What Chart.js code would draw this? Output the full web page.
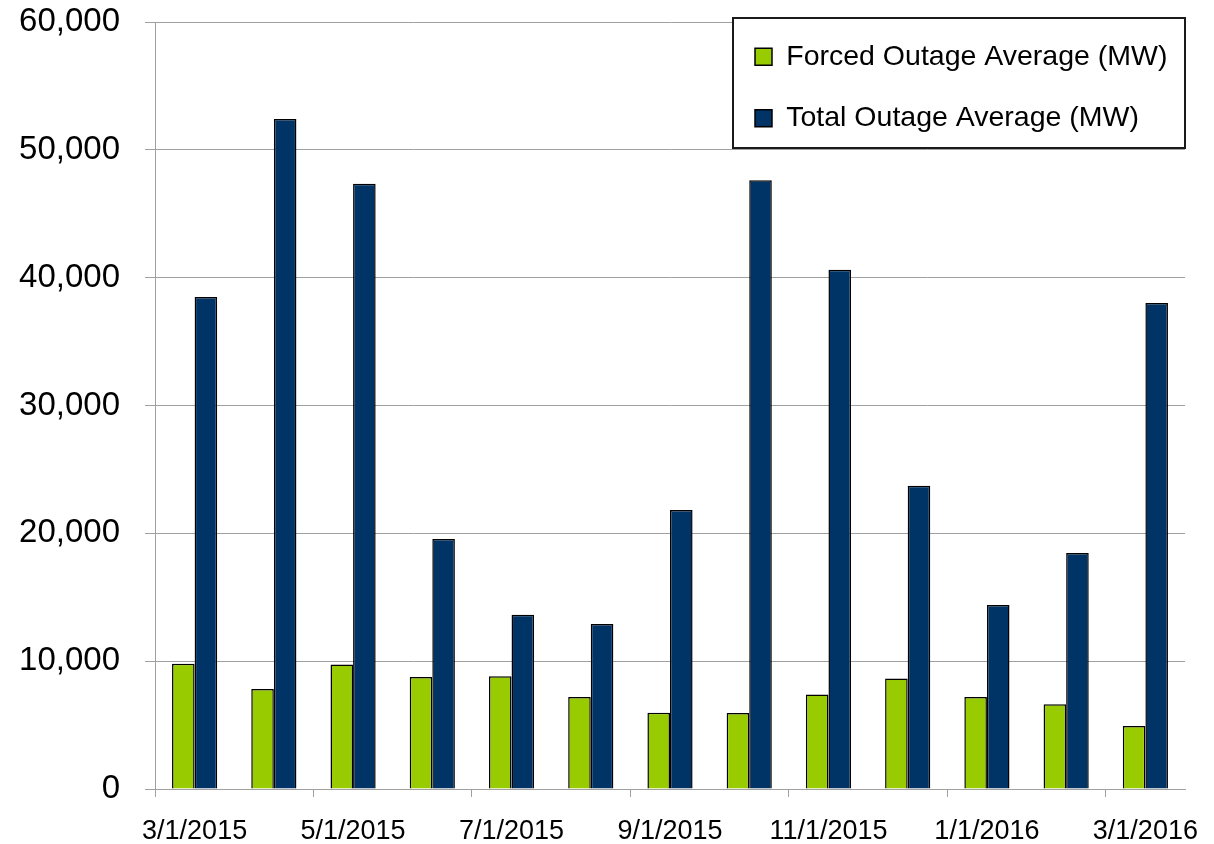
<!DOCTYPE html>
<html>
<head>
<meta charset="utf-8">
<script src="https://cdn.jsdelivr.net/npm/chart.js@4.4.1/dist/chart.umd.min.js"></script>
<style>
  html, body { margin: 0; padding: 0; background: #ffffff; }
  #wrap { position: relative; width: 1214px; height: 844px; }
</style>
</head>
<body>
<div id="wrap"><canvas id="c" width="1214" height="844"></canvas></div>
<script>
// ---- data ----
const categories = ['3/1/2015', '4/1/2015', '5/1/2015', '6/1/2015', '7/1/2015', '8/1/2015', '9/1/2015',
                    '10/1/2015', '11/1/2015', '12/1/2015', '1/1/2016', '2/1/2016', '3/1/2016'];
const forcedOutageLabel = 'Forced Outage Average (MW)';
const totalOutageLabel = 'Total Outage Average (MW)';
const forcedOutage = [9800, 7820, 9740, 8760, 8820, 7190, 5960, 5940, 7400, 8650, 7190, 6620, 4920];
const totalOutage = [38480, 52420, 47340, 19550, 13630, 12900, 21830, 47620, 40620, 23730, 14400, 18470, 38010];
const yMin = 0, yMax = 60000, yStep = 10000;

const FONT = "'Liberation Sans', Arial, sans-serif";
Chart.defaults.font.family = FONT;
Chart.defaults.color = '#000000';

const legendFrame = {
  id: 'legendFrame',
  afterLayout(chart) {
    const lg = chart.legend;
    const ca = chart.chartArea;
    lg.left = ca.right - 463;
    lg.top = ca.top - 12.5;
    lg.right = ca.right + 2;
    lg.bottom = ca.top + 300;
    lg.width = lg.right - lg.left;
    lg.height = lg.bottom - lg.top;
  },
  afterDraw(chart) {
    const ctx = chart.ctx;
    const ca = chart.chartArea;
    const x = ca.right - 452, y = ca.top - 4, w = 452, h = 130;
    ctx.save();
    ctx.fillStyle = '#ffffff';
    ctx.fillRect(x, y, w, h);
    ctx.strokeStyle = '#1a1a1a';
    ctx.lineWidth = 2;
    ctx.strokeRect(x, y, w, h);
    ctx.restore();
    chart.legend.draw(chart.chartArea);
  }
};

new Chart(document.getElementById('c'), {
  type: 'bar',
  data: {
    labels: categories,
    datasets: [
      { label: forcedOutageLabel, data: forcedOutage, backgroundColor: '#99CC00', borderColor: '#000000', borderWidth: 1.5 },
      { label: totalOutageLabel, data: totalOutage, backgroundColor: '#003366', borderColor: '#000000', borderWidth: 1.5 }
    ]
  },
  options: {
    responsive: false,
    animation: false,
    devicePixelRatio: 1,
    layout: { padding: { top: 0, right: 29, bottom: 0, left: 0 } },
    datasets: { bar: { categoryPercentage: 0.57, barPercentage: 1.0 } },
    plugins: {
      legend: {
        position: 'chartArea',
        align: 'start',
        labels: {
          font: { size: 28.5 },
          color: '#000000',
          boxWidth: 17,
          boxHeight: 17,
          padding: 33
        }
      },
      tooltip: { enabled: false },
      title: { display: false }
    },
    scales: {
      x: {
        type: 'category',
        offset: true,
        grid: {
          offset: true,
          drawOnChartArea: false,
          drawTicks: true,
          tickLength: 8,
          color: (ctx) => (ctx.index % 2 === 0 ? '#a0a0a0' : 'rgba(0,0,0,0)'),
          lineWidth: 1
        },
        border: { display: true, color: '#a0a0a0', width: 1 },
        ticks: {
          autoSkip: false,
          maxRotation: 0,
          minRotation: 0,
          padding: 18,
          font: { size: 27 },
          color: '#000000',
          callback: function (value, index) { return index % 2 === 0 ? categories[index] : ''; }
        },
        afterFit: (scale) => { scale.height = 55; scale.paddingLeft = 0; scale.paddingRight = 0; }
      },
      y: {
        min: yMin,
        max: yMax,
        grid: { color: '#a0a0a0', lineWidth: 1, tickLength: 10, drawTicks: true },
        border: { display: true, color: '#a0a0a0', width: 1 },
        ticks: {
          stepSize: yStep,
          padding: 25,
          font: { size: 33 },
          color: '#000000',
          callback: (v) => Number(v).toLocaleString('en-US')
        },
        afterFit: (scale) => { scale.width = 155; scale.paddingTop = 22; scale.paddingBottom = 0; }
      }
    }
  },
  plugins: [legendFrame]
});
</script>
</body>
</html>
